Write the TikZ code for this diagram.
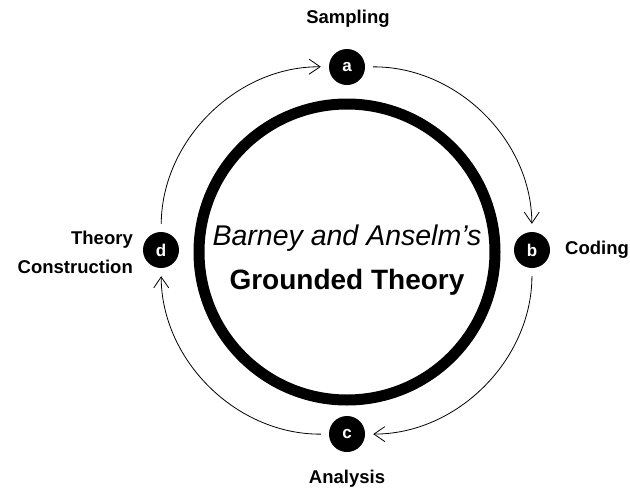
\documentclass[tikz,border=0pt]{standalone}
\usepackage{fontspec}
\setmainfont{Liberation Sans}
\usetikzlibrary{arrows.meta}
\tikzset{
  dot/.style={circle, fill=black, text=white, minimum size=36pt, inner sep=0pt,
    font=\bfseries\fontsize{17}{17}\selectfont},
  lbl/.style={font=\bfseries\fontsize{18.5}{20}\selectfont, inner sep=0pt},
  flow/.style={line width=0.8pt, -{Straight Barb[length=11pt,width=15pt]},
    bend left=45, looseness=1.0, shorten <=8pt, shorten >=8pt},
}
\begin{document}
\begin{tikzpicture}[x=1pt,y=-1pt]
\useasboundingbox (0,0) rectangle (630,493);
\node[draw, circle, line width=11pt, minimum size=296pt, inner sep=0pt] (g) at (347,252) {};
\node[font=\itshape\fontsize{28.5}{30}\selectfont, inner sep=0pt] (t1) at (347,238) {Barney and Anselm’s};
\node[font=\bfseries\fontsize{28}{30}\selectfont, inner sep=0pt] (t2) at (347,282) {Grounded Theory};
\node[dot] (a) at (347,67) {a};
\node[dot] (b) at (532,250) {b};
\node[dot] (c) at (347,434) {c};
\node[dot] (d) at (161,250) {d};
\node[lbl] (la) at (348,19) {Sampling};
\node[lbl, anchor=west] (lb) at (565,250) {Coding};
\node[lbl] (lc) at (347,479) {Analysis};
\node[lbl, anchor=east, align=right, font=\bfseries\fontsize{18.5}{29}\selectfont] (ld) at (133,252) {Theory\\Construction};
\draw[flow] (a) to (b);
\draw[flow] (b) to (c);
\draw[flow] (c) to (d);
\draw[flow] (d) to (a);
\end{tikzpicture}
\end{document}
